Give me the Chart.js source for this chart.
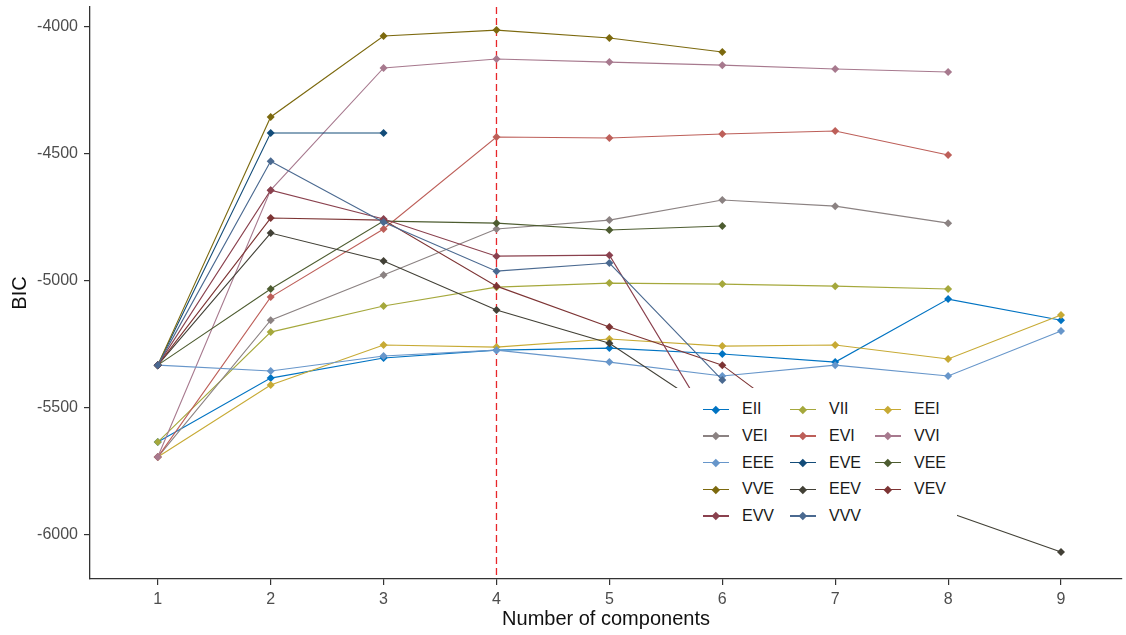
<!DOCTYPE html>
<html>
<head>
<meta charset="utf-8">
<title>BIC</title>
<script src="https://cdn.jsdelivr.net/npm/chart.js@4.4.1/dist/chart.umd.min.js"></script>
<style>
  html, body { margin: 0; padding: 0; background: #fff; }
  #wrap { position: relative; width: 1126px; height: 635px; }
  #legend {
    position: absolute; left: 675px; top: 388px; width: 282px; height: 145px;
    background: #fff; box-sizing: border-box; padding: 8px 0 0 28px;
    display: grid; grid-template-columns: 87px 85px 80px; grid-auto-rows: 26.7px;
    font: 16px "Liberation Sans", Arial, sans-serif; color: #1a1a1a;
  }
  .item { display: flex; align-items: center; }
  .key { position: relative; width: 26px; height: 12px; margin-right: 13px; }
  .key .ln { position: absolute; left: 0; right: 0; top: 5.4px; height: 1.2px; }
  .key .dm { position: absolute; left: 10.2px; top: 3.2px; width: 5.6px; height: 5.6px; transform: rotate(45deg); }
</style>
</head>
<body>
<div id="wrap">
  <canvas id="bic-chart" width="1126" height="635"></canvas>
  <div id="legend"></div>
</div>
<script>
// number of mixture components
var components = [1, 2, 3, 4, 5, 6, 7, 8, 9];

// BIC per model (null = not fitted)
var EII = [-5634, -5382, -5303, -5272, -5264, -5287, -5319, -5071, -5154];
var VII = [-5634, -5201, -5098, -5024, -5008, -5012, -5020, -5031, null];
var EEI = [-5693, -5409, -5252, -5260, -5228, -5256, -5252, -5307, -5134];
var VEI = [-5693, -5154, -4976, -4795, -4760, -4681, -4705, -4772, null];
var EVI = [-5693, -5063, -4795, -4433, -4437, -4421, -4409, -4504, null];
var VVI = [-5693, -4642, -4161, -4126, -4138, -4150, -4165, -4177, null];
var EEE = [-5331, -5354, -5295, -5272, -5319, -5374, -5331, -5374, -5197];
var EVE = [-5331, -4417, -4417, null, null, null, null, null, null];
var VEE = [-5331, -5031, -4764, -4772, -4799, -4783, null, null, null];
var VVE = [-5331, -4354, -4035, -4012, -4043, -4098, null, null, null];
var EEV = [-5331, -4811, -4921, -5114, -5245, -5540, -5720, -5910, -6067];
var VEV = [-5331, -4752, -4760, -5020, -5181, -5331, -5661, null, null];
var EVV = [-5331, -4642, -4756, -4902, -4898, -5634, null, null, null];
var VVV = [-5331, -4528, -4768, -4961, -4929, -5390, null, null, null];

var modelNames = ["EII", "VII", "EEI", "VEI", "EVI", "VVI", "EEE", "EVE", "VEE", "VVE", "EEV", "VEV", "EVV", "VVV"];
var modelValues = [EII, VII, EEI, VEI, EVI, VVI, EEE, EVE, VEE, VVE, EEV, VEV, EVV, VVV];
var modelColors = ["#0073C2", "#A5A83C", "#C7AA34", "#8B8282", "#BD5F59", "#A7798E", "#6796CA",
                   "#134C79", "#4D5C30", "#7C690E", "#424036", "#7D3434", "#8A414E", "#4A6990"];

var yTicks = [-6000, -5500, -5000, -4500, -4000];
var xTicks = components;
var bestK = 4;

var FONT = "'Liberation Sans', Arial, sans-serif";

var vlinePlugin = {
    id: "vline",
    beforeDatasetsDraw: function (chart) {
        var x = chart.scales.x.getPixelForValue(bestK);
        var area = chart.chartArea;
        var ctx = chart.ctx;
        ctx.save();
        ctx.strokeStyle = "#e8262a";
        ctx.lineWidth = 1.3;
        ctx.setLineDash([7, 4]);
        ctx.beginPath();
        ctx.moveTo(x, area.top);
        ctx.lineTo(x, area.bottom);
        ctx.stroke();
        ctx.restore();
    }
};

var datasets = modelNames.map(function (name, i) {
    return {
        label: name,
        data: components.map(function (k, j) { return { x: k, y: modelValues[i][j] }; }),
        borderColor: modelColors[i],
        backgroundColor: modelColors[i],
        borderWidth: 1.1,
        pointStyle: "rectRot",
        pointRadius: 4,
        pointBorderWidth: 0,
        tension: 0,
        spanGaps: false,
        order: modelNames.length - i
    };
});

new Chart(document.getElementById("bic-chart"), {
    type: "line",
    data: { datasets: datasets },
    options: {
        responsive: false,
        animation: false,
        layout: { padding: { top: 7, right: 0, left: 0, bottom: 0 } },
        plugins: { legend: { display: false }, tooltip: { enabled: false } },
        scales: {
            x: {
                type: "linear",
                min: 0.4,
                max: 9.54,
                afterBuildTicks: function (s) { s.ticks = xTicks.map(function (v) { return { value: v }; }); },
                afterFit: function (s) { s.height = 56; s.paddingLeft = 0; s.paddingRight = 0; },
                grid: { display: true, drawOnChartArea: false, drawTicks: true, tickLength: 6, color: "#333", lineWidth: 1.2 },
                border: { display: true, color: "#333", width: 1.3 },
                ticks: { color: "#4d4d4d", font: { family: FONT, size: 16 }, padding: 5, maxRotation: 0 },
                title: { display: true, text: "Number of components", color: "#111", font: { family: FONT, size: 20 }, padding: { top: 0, bottom: 4 } }
            },
            y: {
                type: "linear",
                min: -6173,
                max: -3921,
                afterBuildTicks: function (s) { s.ticks = yTicks.map(function (v) { return { value: v }; }); },
                afterFit: function (s) { s.width = 90; s.paddingTop = 0; s.paddingBottom = 0; },
                grid: { display: true, drawOnChartArea: false, drawTicks: true, tickLength: 6, color: "#333", lineWidth: 1.2 },
                border: { display: true, color: "#333", width: 1.3 },
                ticks: { color: "#4d4d4d", font: { family: FONT, size: 16 }, padding: 6,
                         callback: function (v) { return String(v); } },
                title: { display: true, text: "BIC", color: "#111", font: { family: FONT, size: 20 }, padding: { top: 8, bottom: 0 } }
            }
        }
    },
    plugins: [vlinePlugin]
});

// legend drawn over the plot, 3 columns, row by row
var legend = document.getElementById("legend");
modelNames.forEach(function (name, i) {
    var item = document.createElement("div");
    item.className = "item";
    item.innerHTML = '<span class="key"><span class="ln" style="background:' + modelColors[i] + '"></span>' +
        '<span class="dm" style="background:' + modelColors[i] + '"></span></span><span>' + name + '</span>';
    legend.appendChild(item);
});
</script>
</body>
</html>
